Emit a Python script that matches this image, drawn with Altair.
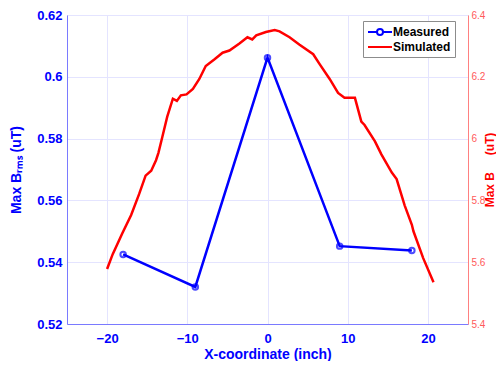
import altair as alt
import pandas as pd

# ---- data ----
meas_x = [-18, -9, 0, 9, 18]
meas_b = [0.5425, 0.5320, 0.6062, 0.5452, 0.5438]

sim_x = [-20.0, -19.3, -18.1, -17.0, -16.0, -15.2, -14.5, -13.9, -13.6, -13.1,
         -12.5, -11.8, -11.3, -10.8, -10.1, -9.3, -8.5, -7.7, -6.6, -5.6,
         -4.75, -3.5, -2.5, -1.9, -1.4, -0.2, 0.9, 1.5, 2.75, 4.0,
         5.7, 6.5, 7.75, 8.8, 9.6, 10.9, 11.7, 12.1, 13.4, 14.2,
         15.5, 16.1, 17.1, 18.0, 18.2, 19.4, 20.7]
sim_b = [5.578, 5.626, 5.694, 5.753, 5.821, 5.880, 5.896, 5.930, 5.954, 6.007,
         6.071, 6.129, 6.122, 6.140, 6.143, 6.161, 6.193, 6.235, 6.257, 6.278,
         6.285, 6.308, 6.328, 6.321, 6.334, 6.345, 6.351, 6.347, 6.328, 6.304,
         6.273, 6.241, 6.193, 6.148, 6.132, 6.132, 6.055, 6.044, 5.991, 5.949,
         5.890, 5.869, 5.784, 5.721, 5.700, 5.614, 5.535]

series = ["Measured", "Simulated"]
x_ticks = [-20, -10, 0, 10, 20]
left_ticks = [0.52, 0.54, 0.56, 0.58, 0.6, 0.62]
right_ticks = [5.4, 5.6, 5.8, 6.0, 6.2, 6.4]

df_m = pd.DataFrame({"x": meas_x, "B": meas_b})
df_s = pd.DataFrame({"x": sim_x, "B": sim_b})
df_leg = pd.DataFrame({"x": [meas_x[0]] * 2, "B": [meas_b[0]] * 2, "series": series})

BLUE = "#0000ff"
RED = "#ff0000"
FONT = "Liberation Sans"
W, H = 401, 309

xenc = alt.X(
    "x:Q",
    scale=alt.Scale(domain=[-25, 25], nice=False, zero=False),
    axis=alt.Axis(
        values=x_ticks, title="X-coordinate (inch)", labelFont=FONT,
        labelFontWeight="bold", labelFontSize=13, labelColor=BLUE,
        titleFont=FONT, titleFontWeight="bold", titleFontSize=14,
        titleColor=BLUE, ticks=False, labelPadding=8, titlePadding=2,
        domainColor="#7a7aff", grid=True, gridColor="#e4e4ff",
    ),
)

yleft = alt.Y(
    "B:Q",
    scale=alt.Scale(domain=[0.52, 0.62], nice=False, zero=False),
    axis=alt.Axis(
        values=left_ticks, format=".2~f", title="Max B\u1d63\u2098\u209b (uT)",
        labelFont=FONT, labelFontWeight="bold", labelFontSize=13,
        labelColor=BLUE, titleFont=FONT, titleFontWeight="bold",
        titleFontSize=14, titleColor=BLUE, ticks=False, labelPadding=5,
        titlePadding=13, domainColor="#7a7aff", grid=True, gridColor="#e4e4ff",
    ),
)

yright = alt.Y(
    "B:Q",
    scale=alt.Scale(domain=[5.4, 6.4], nice=False, zero=False),
    axis=alt.Axis(
        orient="right", values=right_ticks, format=".1~f",
        title="Max B\u00a0\u00a0\u00a0\u00a0 (uT)", titleAngle=270,
        titleX=21.5, titleY=H / 2, titleBaseline="middle", titleAlign="center",
        labelFont=FONT, labelFontSize=10, labelColor="#ff5a5a",
        titleFont=FONT, titleFontWeight="bold", titleFontSize=12,
        titleColor=RED, ticks=False, labelPadding=3,
        domainColor="#ff8080", grid=False,
    ),
)

meas_line = alt.Chart(df_m).mark_line(color=BLUE, strokeWidth=2.5).encode(x=xenc, y=yleft)
meas_pts = alt.Chart(df_m).mark_point(
    color=BLUE, filled=False, size=30, strokeWidth=2, shape="circle"
).encode(x=xenc, y=yleft)

path_meas = "M-2,0H-0.5A0.5,0.5 0 1,1 0.5,0H2M0.5,0A0.5,0.5 0 1,1 -0.5,0"
path_sim = "M-2,0H2"
leg = alt.Legend(
    title=None, orient="none", legendX=296, legendY=6,
    strokeColor="#8c8c8c", fillColor="white", padding=4,
    labelFont=FONT, labelFontWeight="bold", labelFontSize=12,
    labelColor="black", symbolSize=144, symbolStrokeWidth=2,
    symbolOpacity=1, rowPadding=1, labelOffset=6, symbolOffset=6,
)
legend_layer = alt.Chart(df_leg).mark_point(filled=False, opacity=0).encode(
    x=xenc, y=yleft,
    color=alt.Color("series:N", scale=alt.Scale(domain=series, range=[BLUE, RED]), legend=leg),
    shape=alt.Shape("series:N", scale=alt.Scale(domain=series, range=[path_meas, path_sim]), legend=leg),
)

left = alt.layer(meas_line, meas_pts, legend_layer)
right = alt.Chart(df_s).mark_line(color=RED, strokeWidth=2.5).encode(x=xenc, y=yright)

chart = (
    alt.layer(left, right)
    .resolve_scale(y="independent")
    .properties(
        width=W, height=H,
        autosize=alt.AutoSizeParams(type="none"),
        padding={"left": 59, "top": 7, "right": 28, "bottom": 37},
    )
    .configure_view(stroke="#7a7aff", strokeWidth=1)
    .configure(background="white")
)

chart.save("out.html", embed_options={"renderer": "svg", "actions": False})
